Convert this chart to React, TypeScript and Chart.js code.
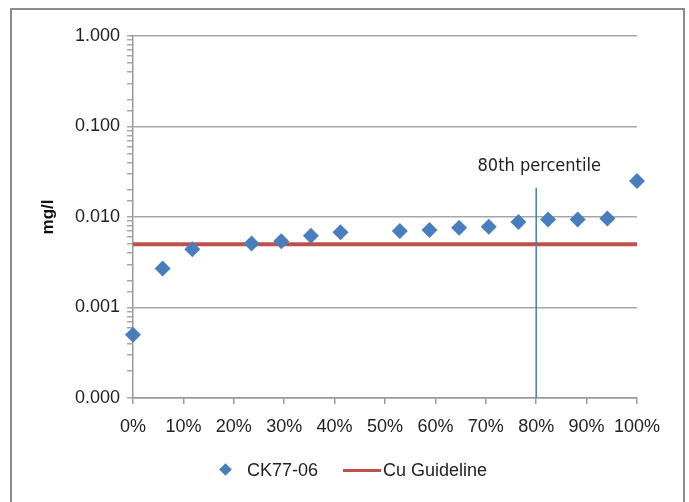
import React, { useEffect, useRef } from "react";
import { Chart, registerables } from "chart.js";

Chart.register(...registerables);

// Data
const percentiles: number[] = [0, 1 / 17, 2 / 17, 4 / 17, 5 / 17, 6 / 17, 7 / 17, 9 / 17, 10 / 17, 11 / 17, 12 / 17, 13 / 17, 14 / 17, 15 / 17, 16 / 17, 1];
const ck7706: number[] = [0.0005, 0.0027, 0.0044, 0.0051, 0.0054, 0.0062, 0.0068, 0.007, 0.0072, 0.0076, 0.0078, 0.0088, 0.0094, 0.0094, 0.0096, 0.025];
const guidelineX: number[] = [0, 1];
const guidelineY: number[] = [0.005, 0.005];
const percentileLineX: number[] = [0.8, 0.8];
const percentileLineY: number[] = [0.0001, 0.021];
const percentileLabel = "80th percentile";
const percentileLabelY = 0.036;
const yMin = 0.0001;
const yMax = 1;
const seriesNames = ["CK77-06", "Cu Guideline"];
const yTitle = "mg/l";

const BLUE = "#4a7dbb";
const RED = "#c0504d";
const FONT = "'Liberation Sans', Arial, sans-serif";

const isMajor = (v: number) => {
  const l = Math.log10(v);
  return Math.abs(l - Math.round(l)) < 1e-9;
};

const labelPlugin = {
  id: "pctLabel",
  afterDatasetsDraw(chart: any) {
    const { ctx, scales } = chart;
    const x = scales.x.getPixelForValue(percentileLineX[0]);
    const y = scales.y.getPixelForValue(percentileLabelY);
    ctx.save();
    ctx.font = "18px 'Liberation Sans Narrow', 'DejaVu Sans Condensed', Arial, sans-serif";
    ctx.fillStyle = "#222";
    ctx.textAlign = "center";
    ctx.textBaseline = "middle";
    ctx.fillText(percentileLabel, x + 3, y);
    ctx.restore();
  },
};

export default function App() {
  const ref = useRef<HTMLCanvasElement | null>(null);
  useEffect(() => {
    if (!ref.current) return;
    const chart = new Chart(ref.current, {
      type: "scatter",
      data: {
        datasets: [
          {
            label: seriesNames[0],
            data: percentiles.map((p, i) => ({ x: p, y: ck7706[i] })),
            pointStyle: "rectRot",
            pointRadius: 8,
            backgroundColor: BLUE,
            borderColor: BLUE,
            borderWidth: 0,
            showLine: false,
            clip: false,
            order: 0,
          },
          {
            label: seriesNames[1],
            data: guidelineX.map((x, i) => ({ x, y: guidelineY[i] })),
            showLine: true,
            borderColor: RED,
            borderWidth: 4,
            pointRadius: 0,
            order: 2,
          },
          {
            label: "percentile",
            data: percentileLineX.map((x, i) => ({ x, y: percentileLineY[i] })),
            showLine: true,
            borderColor: BLUE,
            borderWidth: 1.5,
            pointRadius: 0,
            order: 1,
          },
        ],
      },
      options: {
        animation: false,
        responsive: false,
        maintainAspectRatio: false,
        layout: { padding: { left: 34, right: 52, top: 36, bottom: 56 } },
        plugins: { legend: { display: false }, tooltip: { enabled: false } },
        scales: {
          x: {
            type: "linear",
            min: 0,
            max: 1,
            afterFit: (s: any) => {
              s.height = 48;
            },
            ticks: {
              stepSize: 0.1,
              padding: 12,
              color: "#222",
              font: { family: FONT, size: 18 },
              callback: (v: any) => Math.round(Number(v) * 100) + "%",
              maxRotation: 0,
              autoSkip: false,
            },
            grid: { drawOnChartArea: false, drawTicks: true, tickLength: 6, tickColor: "#999", lineWidth: 1.5 },
            border: { color: "#999", width: 1.5 },
          },
          y: {
            type: "logarithmic",
            min: yMin,
            max: yMax,
            afterFit: (s: any) => {
              s.width = 99;
            },
            title: { display: true, text: yTitle, color: "#111", font: { family: FONT, size: 17, weight: "bold" } },
            ticks: {
              padding: 7,
              color: "#222",
              autoSkip: false,
              font: { family: FONT, size: 18 },
              callback: (v: any) => (isMajor(Number(v)) ? Number(v).toFixed(3) : ""),
            },
            grid: {
              color: (c: any) => (c.tick && isMajor(c.tick.value) ? "#a6a6a6" : "rgba(0,0,0,0)"),
              tickColor: "#a6a6a6",
              tickLength: 6,
              lineWidth: 1.5,
            },
            border: { color: "#999", width: 1.5 },
          },
        },
      },
      plugins: [labelPlugin],
    });
    return () => chart.destroy();
  }, []);

  const legendText: React.CSSProperties = {
    position: "absolute",
    top: 460,
    fontFamily: FONT,
    fontSize: 18,
    color: "#222",
    lineHeight: "20px",
    whiteSpace: "nowrap",
  };

  return (
    <div style={{ position: "absolute", left: 0, top: 0, width: 689, height: 502, overflow: "hidden", background: "#fff" }}>
      <canvas ref={ref} width={689} height={502} style={{ position: "absolute", left: 0, top: 0 }} />
      <div
        style={{
          position: "absolute",
          left: 10,
          top: 8,
          width: 671,
          height: 600,
          border: "2.5px solid #8c8c8c",
          borderBottom: "none",
          pointerEvents: "none",
        }}
      />
      <div
        style={{
          position: "absolute",
          left: 221,
          top: 465,
          width: 9,
          height: 9,
          background: BLUE,
          transform: "rotate(45deg)",
        }}
      />
      <div style={{ ...legendText, left: 247 }}>{seriesNames[0]}</div>
      <div style={{ position: "absolute", left: 343, top: 469, width: 38, height: 3, background: RED }} />
      <div style={{ ...legendText, left: 383 }}>{seriesNames[1]}</div>
    </div>
  );
}
